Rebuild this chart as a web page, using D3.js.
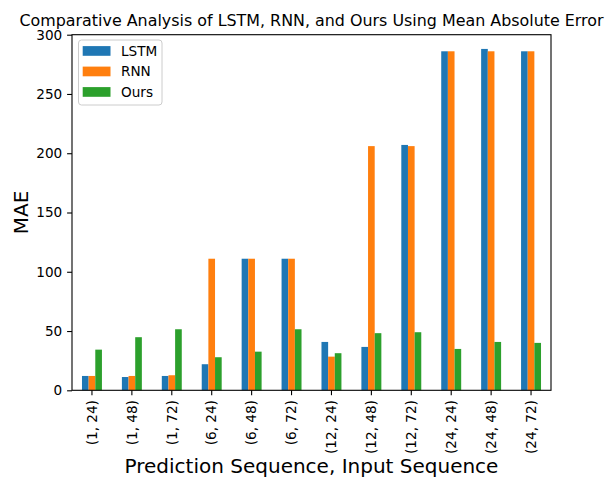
<!DOCTYPE html>
<html lang="en">

<head>
    <meta charset="UTF-8">
    <title>MAE comparison</title>
    <script src="https://d3js.org/d3.v7.min.js"></script>
    <style>
        body { margin: 0; background: #fff; }
        text { font-family: "DejaVu Sans", sans-serif; fill: #000; }
    </style>
</head>

<body>
    <svg id="chart" width="611" height="479"></svg>

    <script>
        const categories = ["(1, 24)", "(1, 48)", "(1, 72)", "(6, 24)", "(6, 48)", "(6, 72)",
            "(12, 24)", "(12, 48)", "(12, 72)", "(24, 24)", "(24, 48)", "(24, 72)"];
        const seriesNames = ["LSTM", "RNN", "Ours"];
        const lstmValues = [12.1, 11.2, 12.1, 22, 111, 111, 40.8, 36.6, 207, 286, 288, 286];
        const rnnValues = [12.1, 12.1, 12.7, 111, 111, 111, 28.4, 206, 206, 286, 286, 286];
        const oursValues = [34.3, 44.8, 51.5, 27.9, 32.6, 51.5, 31.3, 48.2, 49, 34.9, 40.8, 40];
        const yTicks = [0, 50, 100, 150, 200, 250, 300];
        const colors = ["#1f77b4", "#ff7f0e", "#2ca02c"];

        const svg = d3.select("#chart");
        const margin = { top: 34.7, right: 60, bottom: 88.7, left: 72 };
        const width = 611, height = 479;
        const plotW = 551 - margin.left;
        const plotH = height - margin.bottom - margin.top;

        const g = svg.append("g")
            .attr("transform", `translate(${margin.left},${margin.top})`);

        const x = d3.scaleBand()
            .domain(categories)
            .range([0, plotW])
            .paddingInner(0.5)
            .paddingOuter(0.25);

        const xSub = d3.scaleBand()
            .domain(seriesNames)
            .range([0, x.bandwidth()]);

        const y = d3.scaleLinear()
            .domain([0, 300])
            .range([plotH, 0]);

        const rows = categories.map((c, i) => ({
            cat: c,
            vals: [lstmValues[i], rnnValues[i], oursValues[i]]
        }));

        const groups = g.selectAll(".grp")
            .data(rows)
            .enter()
            .append("g")
            .attr("transform", d => `translate(${x(d.cat)},0)`);

        groups.selectAll("rect")
            .data(d => d.vals.map((v, j) => ({ name: seriesNames[j], v: v, j: j })))
            .enter()
            .append("rect")
            .attr("x", d => xSub(d.name))
            .attr("y", d => y(d.v))
            .attr("width", xSub.bandwidth())
            .attr("height", d => plotH - y(d.v))
            .attr("fill", d => colors[d.j]);

        // axes (matplotlib-like ticks)
        const xAxis = g.append("g")
            .attr("transform", `translate(0,${plotH})`)
            .call(d3.axisBottom(x).tickSize(4.9).tickPadding(4.9));
        xAxis.select(".domain").remove();
        xAxis.selectAll("text")
            .attr("transform", "rotate(-90)")
            .attr("x", -9.8)
            .attr("y", 0)
            .attr("dy", "0.35em")
            .style("text-anchor", "end")
            .style("font-size", "13.6px");

        const yAxis = g.append("g")
            .call(d3.axisLeft(y).tickValues(yTicks).tickSize(4.9).tickPadding(4.9));
        yAxis.select(".domain").remove();
        yAxis.selectAll("text")
            .style("font-size", "13.6px");

        g.selectAll(".tick line").attr("stroke", "#000").attr("stroke-width", 1.1);
        g.selectAll(".tick text").attr("fill", "#000").attr("font-family", "DejaVu Sans");

        g.append("rect")
            .attr("width", plotW)
            .attr("height", plotH)
            .attr("fill", "none")
            .attr("stroke", "#000")
            .attr("stroke-width", 1.1);

        // legend
        const legend = svg.append("g");
        legend.append("rect")
            .attr("x", 78.5)
            .attr("y", 40)
            .attr("width", 83.5)
            .attr("height", 65)
            .attr("rx", 3)
            .attr("fill", "#fff")
            .attr("fill-opacity", 0.8)
            .attr("stroke", "#ccc");

        seriesNames.forEach((name, i) => {
            legend.append("rect")
                .attr("x", 82.7)
                .attr("y", 51 + i * 20.5 - 4.9)
                .attr("width", 27.8)
                .attr("height", 9.7)
                .attr("fill", colors[i]);
            legend.append("text")
                .attr("x", 121)
                .attr("y", 51 + i * 20.5)
                .attr("dy", "0.35em")
                .style("font-size", "13.6px")
                .text(name);
        });

        // titles
        svg.append("text")
            .attr("x", margin.left + plotW / 2)
            .attr("y", 26.4)
            .attr("text-anchor", "middle")
            .style("font-size", "15.9px")
            .text("Comparative Analysis of LSTM, RNN, and Ours Using Mean Absolute Error");

        svg.append("text")
            .attr("x", margin.left + plotW / 2)
            .attr("y", 473)
            .attr("text-anchor", "middle")
            .style("font-size", "20px")
            .text("Prediction Sequence, Input Sequence");

        svg.append("text")
            .attr("transform", `translate(28,${margin.top + plotH / 2})rotate(-90)`)
            .attr("text-anchor", "middle")
            .style("font-size", "20px")
            .text("MAE");
    </script>
</body>

</html>
